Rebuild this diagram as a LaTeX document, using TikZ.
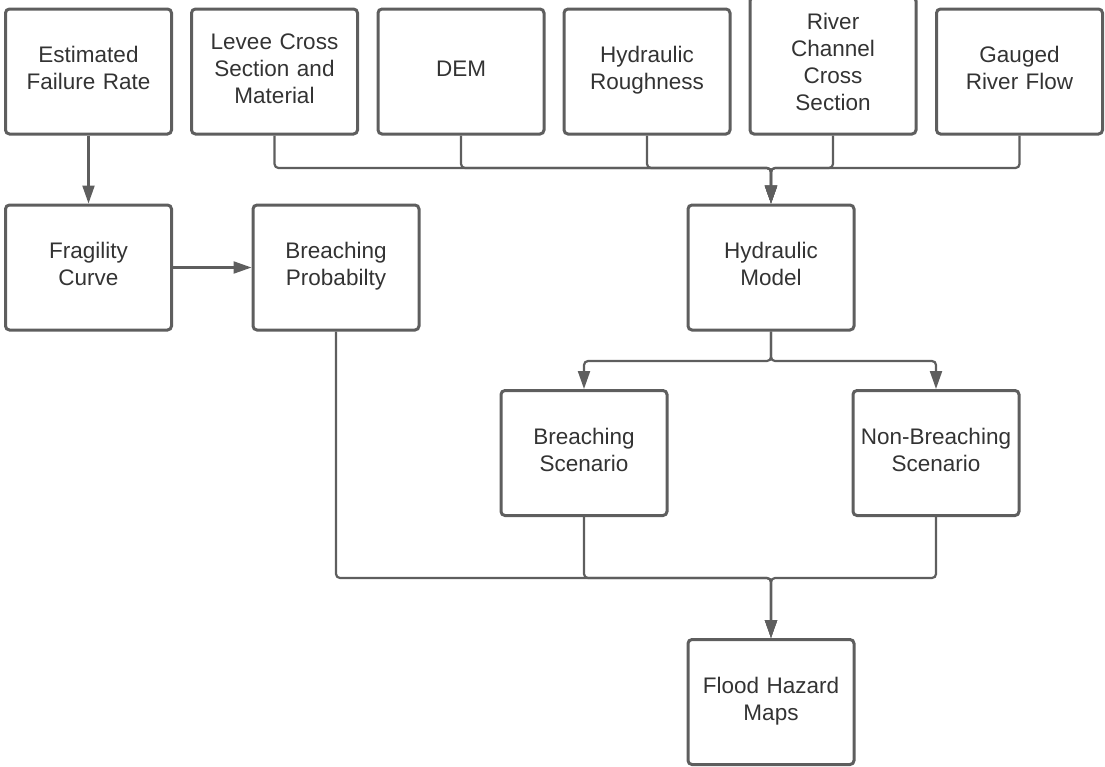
\documentclass[tikz,border=0pt]{standalone}
\usepackage{fontspec}
\setmainfont{Liberation Sans}
\usetikzlibrary{arrows.meta}
\definecolor{edgecol}{HTML}{5E5E5E}
\definecolor{txtcol}{HTML}{333333}
\newcommand{\bxstrut}{\rule[-9pt]{0pt}{27pt}}
\begin{document}
\begin{tikzpicture}[x=1pt,y=-1pt,
  box/.style={draw=edgecol, line width=3pt, rounded corners=4pt, minimum width=166pt, minimum height=125pt, inner sep=0pt, align=center, text=txtcol, font=\fontsize{22.5}{27}\selectfont, text width=162pt, execute at begin node={\bxstrut}, execute at end node={\bxstrut}},
  conn/.style={draw=edgecol, line width=2.2pt, rounded corners=4pt},
  arr/.style={conn, -{Triangle[length=18pt,width=12pt]}}]
\useasboundingbox (0,0) rectangle (1105,766);
\clip (0,0) rectangle (1105,766);
\node[box] (est) at (88.5,71.5) {Estimated\\Failure Rate};
\node[box] (lev) at (274.5,71.5) {Levee Cross\\Section and\\Material};
\node[box] (dem) at (461,71.5) {DEM};
\node[box] (hr) at (647,71.5) {Hydraulic\\Roughness};
\node[box, minimum height=137pt] (riv) at (833,65.5) {River\\Channel\\Cross\\Section};
\node[box] (gau) at (1019.5,71.5) {Gauged\\River Flow};
\node[box] (fra) at (88.5,267.5) {Fragility\\Curve};
\node[box] (bp) at (336,267.5) {Breaching\\Probabilty};
\node[box] (hm) at (771,267.5) {Hydraulic\\Model};
\node[box] (bs) at (584,453) {Breaching\\Scenario};
\node[box] (nbs) at (936,453) {Non-Breaching\\Scenario};
\node[box] (fhm) at (771,702) {Flood Hazard\\Maps};
\coordinate (jt) at (771,168);
\coordinate (jm) at (771,361);
\coordinate (jb) at (771,578);
\draw[arr] (est) -- (fra);
\draw[arr] (fra) -- (bp);
\foreach \s in {lev,dem,hr,riv,gau}{
  \draw[arr] (\s.south) |- (jt) -- (hm.north);
}
\draw[arr] (hm.south) -- (jm) -| (bs.north);
\draw[arr] (hm.south) -- (jm) -| (nbs.north);
\foreach \s in {bp,bs,nbs}{
  \draw[arr] (\s.south) |- (jb) -- (fhm.north);
}
\end{tikzpicture}
\end{document}
